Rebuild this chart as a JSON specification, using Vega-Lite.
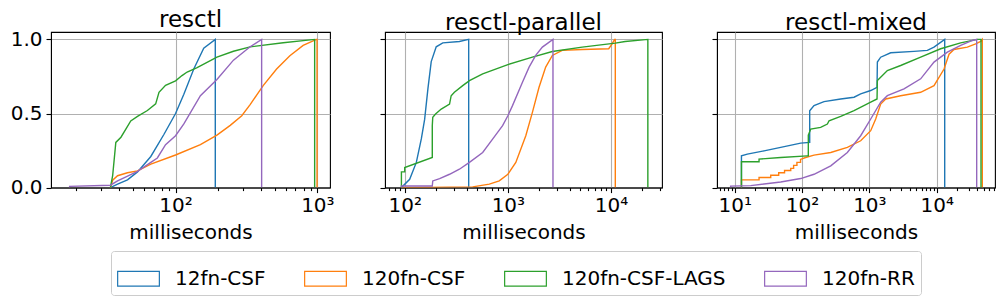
{
  "$schema": "https://vega.github.io/schema/vega-lite/v6.json",
  "padding": {"left": 9, "top": 8, "right": 5, "bottom": 5},
  "config": {
    "font": "DejaVu Sans",
    "view": {"stroke": "black", "strokeWidth": 1.1},
    "axis": {
      "labelFont": "DejaVu Sans", "labelFontSize": 20, "labelColor": "black",
      "titleFont": "DejaVu Sans", "titleFontSize": 20, "titleFontWeight": "normal", "titleColor": "black",
      "tickColor": "black", "domainColor": "black", "gridColor": "#b0b0b0", "gridWidth": 1.1, "tickWidth": 1.1
    },
    "title": {"font": "DejaVu Sans", "fontSize": 23, "fontWeight": "normal", "color": "black", "offset": -3},
    "legend": {"labelFont": "DejaVu Sans"}
  },
  "datasets": {
    "cdf": [
      {"p":"resctl","s":"12fn-CSF","i":0,"x":34.7,"y":0},
      {"p":"resctl","s":"12fn-CSF","i":1,"x":39,"y":0.023},
      {"p":"resctl","s":"12fn-CSF","i":2,"x":45.8,"y":0.052},
      {"p":"resctl","s":"12fn-CSF","i":3,"x":53.9,"y":0.106},
      {"p":"resctl","s":"12fn-CSF","i":4,"x":66.9,"y":0.21},
      {"p":"resctl","s":"12fn-CSF","i":5,"x":82.9,"y":0.36},
      {"p":"resctl","s":"12fn-CSF","i":6,"x":100,"y":0.5},
      {"p":"resctl","s":"12fn-CSF","i":7,"x":114.4,"y":0.63},
      {"p":"resctl","s":"12fn-CSF","i":8,"x":134.4,"y":0.8},
      {"p":"resctl","s":"12fn-CSF","i":9,"x":158,"y":0.94},
      {"p":"resctl","s":"12fn-CSF","i":10,"x":190.6,"y":1.0},
      {"p":"resctl","s":"12fn-CSF","i":11,"x":190.6,"y":0},

      {"p":"resctl","s":"120fn-CSF","i":0,"x":34.7,"y":0},
      {"p":"resctl","s":"120fn-CSF","i":1,"x":36,"y":0.05},
      {"p":"resctl","s":"120fn-CSF","i":2,"x":39,"y":0.08},
      {"p":"resctl","s":"120fn-CSF","i":3,"x":45.8,"y":0.1},
      {"p":"resctl","s":"120fn-CSF","i":4,"x":53.9,"y":0.113},
      {"p":"resctl","s":"120fn-CSF","i":5,"x":66.9,"y":0.158},
      {"p":"resctl","s":"120fn-CSF","i":6,"x":100,"y":0.22},
      {"p":"resctl","s":"120fn-CSF","i":7,"x":149.7,"y":0.29},
      {"p":"resctl","s":"120fn-CSF","i":8,"x":195.8,"y":0.354},
      {"p":"resctl","s":"120fn-CSF","i":9,"x":243,"y":0.42},
      {"p":"resctl","s":"120fn-CSF","i":10,"x":293,"y":0.485},
      {"p":"resctl","s":"120fn-CSF","i":11,"x":335.6,"y":0.56},
      {"p":"resctl","s":"120fn-CSF","i":12,"x":416,"y":0.69},
      {"p":"resctl","s":"120fn-CSF","i":13,"x":516,"y":0.8},
      {"p":"resctl","s":"120fn-CSF","i":14,"x":640,"y":0.89},
      {"p":"resctl","s":"120fn-CSF","i":15,"x":794,"y":0.96},
      {"p":"resctl","s":"120fn-CSF","i":16,"x":985,"y":1.0},
      {"p":"resctl","s":"120fn-CSF","i":17,"x":995,"y":1.0},
      {"p":"resctl","s":"120fn-CSF","i":18,"x":995,"y":0},

      {"p":"resctl","s":"120fn-CSF-LAGS","i":0,"x":34.7,"y":0},
      {"p":"resctl","s":"120fn-CSF-LAGS","i":1,"x":36,"y":0.08},
      {"p":"resctl","s":"120fn-CSF-LAGS","i":2,"x":37.9,"y":0.305},
      {"p":"resctl","s":"120fn-CSF-LAGS","i":3,"x":41.2,"y":0.34},
      {"p":"resctl","s":"120fn-CSF-LAGS","i":4,"x":44.6,"y":0.395},
      {"p":"resctl","s":"120fn-CSF-LAGS","i":5,"x":48.3,"y":0.45},
      {"p":"resctl","s":"120fn-CSF-LAGS","i":6,"x":53.9,"y":0.48},
      {"p":"resctl","s":"120fn-CSF-LAGS","i":7,"x":63.3,"y":0.52},
      {"p":"resctl","s":"120fn-CSF-LAGS","i":8,"x":72.4,"y":0.565},
      {"p":"resctl","s":"120fn-CSF-LAGS","i":9,"x":76.4,"y":0.643},
      {"p":"resctl","s":"120fn-CSF-LAGS","i":10,"x":85,"y":0.69},
      {"p":"resctl","s":"120fn-CSF-LAGS","i":11,"x":100,"y":0.72},
      {"p":"resctl","s":"120fn-CSF-LAGS","i":12,"x":111,"y":0.756},
      {"p":"resctl","s":"120fn-CSF-LAGS","i":13,"x":120.7,"y":0.78},
      {"p":"resctl","s":"120fn-CSF-LAGS","i":14,"x":141.9,"y":0.81},
      {"p":"resctl","s":"120fn-CSF-LAGS","i":15,"x":195.8,"y":0.88},
      {"p":"resctl","s":"120fn-CSF-LAGS","i":16,"x":256,"y":0.92},
      {"p":"resctl","s":"120fn-CSF-LAGS","i":17,"x":335.6,"y":0.95},
      {"p":"resctl","s":"120fn-CSF-LAGS","i":18,"x":574,"y":0.977},
      {"p":"resctl","s":"120fn-CSF-LAGS","i":19,"x":957,"y":1.0},
      {"p":"resctl","s":"120fn-CSF-LAGS","i":20,"x":957,"y":0},

      {"p":"resctl","s":"120fn-RR","i":0,"x":17.9,"y":0},
      {"p":"resctl","s":"120fn-RR","i":1,"x":17.9,"y":0.008},
      {"p":"resctl","s":"120fn-RR","i":2,"x":34.7,"y":0.016},
      {"p":"resctl","s":"120fn-RR","i":3,"x":39,"y":0.045},
      {"p":"resctl","s":"120fn-RR","i":4,"x":53.9,"y":0.11},
      {"p":"resctl","s":"120fn-RR","i":5,"x":66.9,"y":0.17},
      {"p":"resctl","s":"120fn-RR","i":6,"x":74.4,"y":0.2},
      {"p":"resctl","s":"120fn-RR","i":7,"x":85,"y":0.29},
      {"p":"resctl","s":"120fn-RR","i":8,"x":100,"y":0.35},
      {"p":"resctl","s":"120fn-RR","i":9,"x":114.4,"y":0.43},
      {"p":"resctl","s":"120fn-RR","i":10,"x":149.7,"y":0.62},
      {"p":"resctl","s":"120fn-RR","i":11,"x":195.8,"y":0.73},
      {"p":"resctl","s":"120fn-RR","i":12,"x":256,"y":0.86},
      {"p":"resctl","s":"120fn-RR","i":13,"x":335.6,"y":0.95},
      {"p":"resctl","s":"120fn-RR","i":14,"x":404.6,"y":1.0},
      {"p":"resctl","s":"120fn-RR","i":15,"x":404.6,"y":0},

      {"p":"resctl-parallel","s":"12fn-CSF","i":0,"x":92.9,"y":0},
      {"p":"resctl-parallel","s":"12fn-CSF","i":1,"x":111.7,"y":0.056},
      {"p":"resctl-parallel","s":"12fn-CSF","i":2,"x":129.6,"y":0.17},
      {"p":"resctl-parallel","s":"12fn-CSF","i":3,"x":145,"y":0.33},
      {"p":"resctl-parallel","s":"12fn-CSF","i":4,"x":156,"y":0.46},
      {"p":"resctl-parallel","s":"12fn-CSF","i":5,"x":168,"y":0.67},
      {"p":"resctl-parallel","s":"12fn-CSF","i":6,"x":180.7,"y":0.85},
      {"p":"resctl-parallel","s":"12fn-CSF","i":7,"x":202,"y":0.95},
      {"p":"resctl-parallel","s":"12fn-CSF","i":8,"x":234,"y":0.977},
      {"p":"resctl-parallel","s":"12fn-CSF","i":9,"x":339,"y":0.986},
      {"p":"resctl-parallel","s":"12fn-CSF","i":10,"x":417,"y":1.0},
      {"p":"resctl-parallel","s":"12fn-CSF","i":11,"x":417,"y":0},

      {"p":"resctl-parallel","s":"120fn-CSF","i":0,"x":92.9,"y":0},
      {"p":"resctl-parallel","s":"120fn-CSF","i":1,"x":456,"y":0.005},
      {"p":"resctl-parallel","s":"120fn-CSF","i":2,"x":661,"y":0.023},
      {"p":"resctl-parallel","s":"120fn-CSF","i":3,"x":825,"y":0.045},
      {"p":"resctl-parallel","s":"120fn-CSF","i":4,"x":1000,"y":0.09},
      {"p":"resctl-parallel","s":"120fn-CSF","i":5,"x":1194,"y":0.17},
      {"p":"resctl-parallel","s":"120fn-CSF","i":6,"x":1492,"y":0.35},
      {"p":"resctl-parallel","s":"120fn-CSF","i":7,"x":1729,"y":0.508},
      {"p":"resctl-parallel","s":"120fn-CSF","i":8,"x":2005,"y":0.677},
      {"p":"resctl-parallel","s":"120fn-CSF","i":9,"x":2326,"y":0.813},
      {"p":"resctl-parallel","s":"120fn-CSF","i":10,"x":2698,"y":0.892},
      {"p":"resctl-parallel","s":"120fn-CSF","i":11,"x":3365,"y":0.926},
      {"p":"resctl-parallel","s":"120fn-CSF","i":12,"x":5250,"y":0.932},
      {"p":"resctl-parallel","s":"120fn-CSF","i":13,"x":9500,"y":0.937},
      {"p":"resctl-parallel","s":"120fn-CSF","i":14,"x":10240,"y":0.97},
      {"p":"resctl-parallel","s":"120fn-CSF","i":15,"x":10830,"y":1.0},
      {"p":"resctl-parallel","s":"120fn-CSF","i":16,"x":11000,"y":1.0},
      {"p":"resctl-parallel","s":"120fn-CSF","i":17,"x":11000,"y":0},

      {"p":"resctl-parallel","s":"120fn-CSF-LAGS","i":0,"x":92.9,"y":0},
      {"p":"resctl-parallel","s":"120fn-CSF-LAGS","i":1,"x":92.9,"y":0.106},
      {"p":"resctl-parallel","s":"120fn-CSF-LAGS","i":2,"x":100,"y":0.106},
      {"p":"resctl-parallel","s":"120fn-CSF-LAGS","i":3,"x":100,"y":0.135},
      {"p":"resctl-parallel","s":"120fn-CSF-LAGS","i":4,"x":185,"y":0.203},
      {"p":"resctl-parallel","s":"120fn-CSF-LAGS","i":5,"x":185,"y":0.418},
      {"p":"resctl-parallel","s":"120fn-CSF-LAGS","i":6,"x":187,"y":0.474},
      {"p":"resctl-parallel","s":"120fn-CSF-LAGS","i":7,"x":199,"y":0.497},
      {"p":"resctl-parallel","s":"120fn-CSF-LAGS","i":8,"x":226,"y":0.53},
      {"p":"resctl-parallel","s":"120fn-CSF-LAGS","i":9,"x":272,"y":0.564},
      {"p":"resctl-parallel","s":"120fn-CSF-LAGS","i":10,"x":282,"y":0.62},
      {"p":"resctl-parallel","s":"120fn-CSF-LAGS","i":11,"x":303,"y":0.643},
      {"p":"resctl-parallel","s":"120fn-CSF-LAGS","i":12,"x":365,"y":0.688},
      {"p":"resctl-parallel","s":"120fn-CSF-LAGS","i":13,"x":424,"y":0.722},
      {"p":"resctl-parallel","s":"120fn-CSF-LAGS","i":14,"x":570,"y":0.767},
      {"p":"resctl-parallel","s":"120fn-CSF-LAGS","i":15,"x":1000,"y":0.83},
      {"p":"resctl-parallel","s":"120fn-CSF-LAGS","i":16,"x":1729,"y":0.88},
      {"p":"resctl-parallel","s":"120fn-CSF-LAGS","i":17,"x":2698,"y":0.918},
      {"p":"resctl-parallel","s":"120fn-CSF-LAGS","i":18,"x":5250,"y":0.948},
      {"p":"resctl-parallel","s":"120fn-CSF-LAGS","i":19,"x":11000,"y":0.975},
      {"p":"resctl-parallel","s":"120fn-CSF-LAGS","i":20,"x":13700,"y":0.986},
      {"p":"resctl-parallel","s":"120fn-CSF-LAGS","i":21,"x":22750,"y":1.0},
      {"p":"resctl-parallel","s":"120fn-CSF-LAGS","i":22,"x":22750,"y":0},

      {"p":"resctl-parallel","s":"120fn-RR","i":0,"x":92.9,"y":0},
      {"p":"resctl-parallel","s":"120fn-RR","i":1,"x":92.9,"y":0.011},
      {"p":"resctl-parallel","s":"120fn-RR","i":2,"x":185,"y":0.011},
      {"p":"resctl-parallel","s":"120fn-RR","i":3,"x":187,"y":0.045},
      {"p":"resctl-parallel","s":"120fn-RR","i":4,"x":218,"y":0.06},
      {"p":"resctl-parallel","s":"120fn-RR","i":5,"x":272,"y":0.09},
      {"p":"resctl-parallel","s":"120fn-RR","i":6,"x":339,"y":0.124},
      {"p":"resctl-parallel","s":"120fn-RR","i":7,"x":424,"y":0.17},
      {"p":"resctl-parallel","s":"120fn-RR","i":8,"x":570,"y":0.237},
      {"p":"resctl-parallel","s":"120fn-RR","i":9,"x":711,"y":0.327},
      {"p":"resctl-parallel","s":"120fn-RR","i":10,"x":889,"y":0.418},
      {"p":"resctl-parallel","s":"120fn-RR","i":11,"x":1000,"y":0.485},
      {"p":"resctl-parallel","s":"120fn-RR","i":12,"x":1109,"y":0.553},
      {"p":"resctl-parallel","s":"120fn-RR","i":13,"x":1385,"y":0.711},
      {"p":"resctl-parallel","s":"120fn-RR","i":14,"x":1606,"y":0.813},
      {"p":"resctl-parallel","s":"120fn-RR","i":15,"x":1862,"y":0.892},
      {"p":"resctl-parallel","s":"120fn-RR","i":16,"x":2160,"y":0.948},
      {"p":"resctl-parallel","s":"120fn-RR","i":17,"x":2737,"y":1.0},
      {"p":"resctl-parallel","s":"120fn-RR","i":18,"x":2737,"y":0},

      {"p":"resctl-mixed","s":"12fn-CSF","i":0,"x":12.6,"y":0},
      {"p":"resctl-mixed","s":"12fn-CSF","i":1,"x":12.6,"y":0.214},
      {"p":"resctl-mixed","s":"12fn-CSF","i":2,"x":15.4,"y":0.226},
      {"p":"resctl-mixed","s":"12fn-CSF","i":3,"x":27.3,"y":0.248},
      {"p":"resctl-mixed","s":"12fn-CSF","i":4,"x":48.2,"y":0.271},
      {"p":"resctl-mixed","s":"12fn-CSF","i":5,"x":95.5,"y":0.3},
      {"p":"resctl-mixed","s":"12fn-CSF","i":6,"x":130,"y":0.305},
      {"p":"resctl-mixed","s":"12fn-CSF","i":7,"x":130,"y":0.519},
      {"p":"resctl-mixed","s":"12fn-CSF","i":8,"x":150.7,"y":0.553},
      {"p":"resctl-mixed","s":"12fn-CSF","i":9,"x":212,"y":0.58},
      {"p":"resctl-mixed","s":"12fn-CSF","i":10,"x":375,"y":0.598},
      {"p":"resctl-mixed","s":"12fn-CSF","i":11,"x":592,"y":0.61},
      {"p":"resctl-mixed","s":"12fn-CSF","i":12,"x":743,"y":0.632},
      {"p":"resctl-mixed","s":"12fn-CSF","i":13,"x":1047,"y":0.655},
      {"p":"resctl-mixed","s":"12fn-CSF","i":14,"x":1300,"y":0.677},
      {"p":"resctl-mixed","s":"12fn-CSF","i":15,"x":1315,"y":0.847},
      {"p":"resctl-mixed","s":"12fn-CSF","i":16,"x":1472,"y":0.88},
      {"p":"resctl-mixed","s":"12fn-CSF","i":17,"x":2075,"y":0.91},
      {"p":"resctl-mixed","s":"12fn-CSF","i":18,"x":4600,"y":0.919},
      {"p":"resctl-mixed","s":"12fn-CSF","i":19,"x":7260,"y":0.926},
      {"p":"resctl-mixed","s":"12fn-CSF","i":20,"x":9120,"y":0.948},
      {"p":"resctl-mixed","s":"12fn-CSF","i":21,"x":13150,"y":1.0},
      {"p":"resctl-mixed","s":"12fn-CSF","i":22,"x":13150,"y":0},

      {"p":"resctl-mixed","s":"120fn-CSF","i":0,"x":12.6,"y":0},
      {"p":"resctl-mixed","s":"120fn-CSF","i":1,"x":12.6,"y":0.052},
      {"p":"resctl-mixed","s":"120fn-CSF","i":2,"x":23,"y":0.052},
      {"p":"resctl-mixed","s":"120fn-CSF","i":3,"x":23,"y":0.068},
      {"p":"resctl-mixed","s":"120fn-CSF","i":4,"x":34.3,"y":0.068},
      {"p":"resctl-mixed","s":"120fn-CSF","i":5,"x":34.3,"y":0.083},
      {"p":"resctl-mixed","s":"120fn-CSF","i":6,"x":45,"y":0.083},
      {"p":"resctl-mixed","s":"120fn-CSF","i":7,"x":45,"y":0.1},
      {"p":"resctl-mixed","s":"120fn-CSF","i":8,"x":55,"y":0.1},
      {"p":"resctl-mixed","s":"120fn-CSF","i":9,"x":55,"y":0.115},
      {"p":"resctl-mixed","s":"120fn-CSF","i":10,"x":68,"y":0.115},
      {"p":"resctl-mixed","s":"120fn-CSF","i":11,"x":68,"y":0.13},
      {"p":"resctl-mixed","s":"120fn-CSF","i":12,"x":75,"y":0.13},
      {"p":"resctl-mixed","s":"120fn-CSF","i":13,"x":75,"y":0.15},
      {"p":"resctl-mixed","s":"120fn-CSF","i":14,"x":84,"y":0.15},
      {"p":"resctl-mixed","s":"120fn-CSF","i":15,"x":84,"y":0.17},
      {"p":"resctl-mixed","s":"120fn-CSF","i":16,"x":95,"y":0.17},
      {"p":"resctl-mixed","s":"120fn-CSF","i":17,"x":95,"y":0.19},
      {"p":"resctl-mixed","s":"120fn-CSF","i":18,"x":113,"y":0.203},
      {"p":"resctl-mixed","s":"120fn-CSF","i":19,"x":150.7,"y":0.219},
      {"p":"resctl-mixed","s":"120fn-CSF","i":20,"x":267,"y":0.237},
      {"p":"resctl-mixed","s":"120fn-CSF","i":21,"x":471,"y":0.271},
      {"p":"resctl-mixed","s":"120fn-CSF","i":22,"x":743,"y":0.316},
      {"p":"resctl-mixed","s":"120fn-CSF","i":23,"x":1047,"y":0.384},
      {"p":"resctl-mixed","s":"120fn-CSF","i":24,"x":1242,"y":0.463},
      {"p":"resctl-mixed","s":"120fn-CSF","i":25,"x":1472,"y":0.564},
      {"p":"resctl-mixed","s":"120fn-CSF","i":26,"x":1750,"y":0.598},
      {"p":"resctl-mixed","s":"120fn-CSF","i":27,"x":2916,"y":0.62},
      {"p":"resctl-mixed","s":"120fn-CSF","i":28,"x":5780,"y":0.643},
      {"p":"resctl-mixed","s":"120fn-CSF","i":29,"x":9120,"y":0.688},
      {"p":"resctl-mixed","s":"120fn-CSF","i":30,"x":12850,"y":0.8},
      {"p":"resctl-mixed","s":"120fn-CSF","i":31,"x":15250,"y":0.9},
      {"p":"resctl-mixed","s":"120fn-CSF","i":32,"x":18060,"y":0.932},
      {"p":"resctl-mixed","s":"120fn-CSF","i":33,"x":28500,"y":0.948},
      {"p":"resctl-mixed","s":"120fn-CSF","i":34,"x":37900,"y":0.97},
      {"p":"resctl-mixed","s":"120fn-CSF","i":35,"x":45000,"y":0.986},
      {"p":"resctl-mixed","s":"120fn-CSF","i":36,"x":47600,"y":1.0},
      {"p":"resctl-mixed","s":"120fn-CSF","i":37,"x":47600,"y":0},

      {"p":"resctl-mixed","s":"120fn-CSF-LAGS","i":0,"x":12.6,"y":0},
      {"p":"resctl-mixed","s":"120fn-CSF-LAGS","i":1,"x":12.6,"y":0.174},
      {"p":"resctl-mixed","s":"120fn-CSF-LAGS","i":2,"x":23,"y":0.174},
      {"p":"resctl-mixed","s":"120fn-CSF-LAGS","i":3,"x":23,"y":0.192},
      {"p":"resctl-mixed","s":"120fn-CSF-LAGS","i":4,"x":48.2,"y":0.203},
      {"p":"resctl-mixed","s":"120fn-CSF-LAGS","i":5,"x":120,"y":0.214},
      {"p":"resctl-mixed","s":"120fn-CSF-LAGS","i":6,"x":124,"y":0.214},
      {"p":"resctl-mixed","s":"120fn-CSF-LAGS","i":7,"x":124,"y":0.354},
      {"p":"resctl-mixed","s":"120fn-CSF-LAGS","i":8,"x":134.6,"y":0.395},
      {"p":"resctl-mixed","s":"120fn-CSF-LAGS","i":9,"x":189,"y":0.406},
      {"p":"resctl-mixed","s":"120fn-CSF-LAGS","i":10,"x":238,"y":0.429},
      {"p":"resctl-mixed","s":"120fn-CSF-LAGS","i":11,"x":252,"y":0.451},
      {"p":"resctl-mixed","s":"120fn-CSF-LAGS","i":12,"x":375,"y":0.48},
      {"p":"resctl-mixed","s":"120fn-CSF-LAGS","i":13,"x":592,"y":0.519},
      {"p":"resctl-mixed","s":"120fn-CSF-LAGS","i":14,"x":1047,"y":0.576},
      {"p":"resctl-mixed","s":"120fn-CSF-LAGS","i":15,"x":1300,"y":0.598},
      {"p":"resctl-mixed","s":"120fn-CSF-LAGS","i":16,"x":1315,"y":0.722},
      {"p":"resctl-mixed","s":"120fn-CSF-LAGS","i":17,"x":1850,"y":0.79},
      {"p":"resctl-mixed","s":"120fn-CSF-LAGS","i":18,"x":2916,"y":0.824},
      {"p":"resctl-mixed","s":"120fn-CSF-LAGS","i":19,"x":5780,"y":0.88},
      {"p":"resctl-mixed","s":"120fn-CSF-LAGS","i":20,"x":11460,"y":0.937},
      {"p":"resctl-mixed","s":"120fn-CSF-LAGS","i":21,"x":22700,"y":0.977},
      {"p":"resctl-mixed","s":"120fn-CSF-LAGS","i":22,"x":40200,"y":1.0},
      {"p":"resctl-mixed","s":"120fn-CSF-LAGS","i":23,"x":45500,"y":1.0},
      {"p":"resctl-mixed","s":"120fn-CSF-LAGS","i":24,"x":45500,"y":0},

      {"p":"resctl-mixed","s":"120fn-RR","i":0,"x":8.7,"y":0},
      {"p":"resctl-mixed","s":"120fn-RR","i":1,"x":8.7,"y":0.01},
      {"p":"resctl-mixed","s":"120fn-RR","i":2,"x":17.3,"y":0.013},
      {"p":"resctl-mixed","s":"120fn-RR","i":3,"x":48.2,"y":0.038},
      {"p":"resctl-mixed","s":"120fn-RR","i":4,"x":95.5,"y":0.061},
      {"p":"resctl-mixed","s":"120fn-RR","i":5,"x":150.7,"y":0.09},
      {"p":"resctl-mixed","s":"120fn-RR","i":6,"x":267,"y":0.147},
      {"p":"resctl-mixed","s":"120fn-RR","i":7,"x":471,"y":0.237},
      {"p":"resctl-mixed","s":"120fn-RR","i":8,"x":743,"y":0.35},
      {"p":"resctl-mixed","s":"120fn-RR","i":9,"x":1047,"y":0.463},
      {"p":"resctl-mixed","s":"120fn-RR","i":10,"x":1472,"y":0.576},
      {"p":"resctl-mixed","s":"120fn-RR","i":11,"x":1850,"y":0.62},
      {"p":"resctl-mixed","s":"120fn-RR","i":12,"x":3270,"y":0.666},
      {"p":"resctl-mixed","s":"120fn-RR","i":13,"x":5780,"y":0.734},
      {"p":"resctl-mixed","s":"120fn-RR","i":14,"x":9120,"y":0.847},
      {"p":"resctl-mixed","s":"120fn-RR","i":15,"x":14400,"y":0.914},
      {"p":"resctl-mixed","s":"120fn-RR","i":16,"x":22700,"y":0.96},
      {"p":"resctl-mixed","s":"120fn-RR","i":17,"x":33900,"y":0.993},
      {"p":"resctl-mixed","s":"120fn-RR","i":18,"x":39250,"y":1.0},
      {"p":"resctl-mixed","s":"120fn-RR","i":19,"x":39250,"y":0}
    ]
  },
  "data": {"name": "cdf"},
  "bounds": "flush",
  "spacing": 55,
  "resolve": {"scale": {"x": "independent", "color": "shared"}, "legend": {"color": "shared"}},
  "hconcat": [
    {
      "title": "resctl",
      "width": 279, "height": 155.6,
      "transform": [{"filter": "datum.p === 'resctl'"}],
      "mark": {"type": "line", "strokeWidth": 1.4, "clip": true},
      "encoding": {
        "x": {"field": "x", "type": "quantitative",
          "scale": {"type": "log", "domain": [13.23, 1228], "nice": false},
          "axis": {"title": "milliseconds", "values": [20,30,40,50,60,70,80,90,100,200,300,400,500,600,700,800,900,1000],
            "labelExpr": "abs(log(datum.value)/LN10 - round(log(datum.value)/LN10)) < 0.000001 ? '10' + ['⁰','¹','²','³','⁴','⁵'][round(log(datum.value)/LN10)] : ''",
            "labelOverlap": false, "labelFlush": false, "labelPadding": 3, "titlePadding": 7,
            "tickSize": {"condition": {"test": "abs(log(datum.value)/LN10 - round(log(datum.value)/LN10)) < 0.000001", "value": 5}, "value": 3},
            "gridOpacity": {"condition": {"test": "abs(log(datum.value)/LN10 - round(log(datum.value)/LN10)) < 0.000001", "value": 1}, "value": 0}}},
        "y": {"field": "y", "type": "quantitative",
          "scale": {"domain": [0, 1.05], "nice": false},
          "axis": {"title": null, "values": [0, 0.5, 1], "format": ".1f", "tickSize": 5, "labelPadding": 4}},
        "color": {"field": "s", "type": "nominal",
          "scale": {"domain": ["12fn-CSF","120fn-CSF","120fn-CSF-LAGS","120fn-RR"], "range": ["#1f77b4","#ff7f0e","#2ca02c","#9467bd"]},
          "legend": {"orient": "none", "legendX": 60, "legendY": 219, "direction": "horizontal", "columns": 4, "title": null,
            "symbolType": "M-1,-0.35H1V0.35H-1Z", "symbolSize": 1740, "symbolStrokeWidth": 1.2,
            "labelFontSize": 20, "labelColor": "black", "labelOffset": 15, "columnPadding": 36, "padding": 6,
            "strokeColor": "#cccccc", "cornerRadius": 3, "fillColor": "white", "labelLimit": 300}},
        "order": {"field": "i", "type": "quantitative"}
      }
    },
    {
      "title": "resctl-parallel",
      "width": 277, "height": 155.6,
      "transform": [{"filter": "datum.p === 'resctl-parallel'"}],
      "mark": {"type": "line", "strokeWidth": 1.4, "clip": true},
      "encoding": {
        "x": {"field": "x", "type": "quantitative",
          "scale": {"type": "log", "domain": [64.4, 31200], "nice": false},
          "axis": {"title": "milliseconds", "values": [70,80,90,100,200,300,400,500,600,700,800,900,1000,2000,3000,4000,5000,6000,7000,8000,9000,10000,20000,30000],
            "labelExpr": "abs(log(datum.value)/LN10 - round(log(datum.value)/LN10)) < 0.000001 ? '10' + ['⁰','¹','²','³','⁴','⁵'][round(log(datum.value)/LN10)] : ''",
            "labelOverlap": false, "labelFlush": false, "labelPadding": 3, "titlePadding": 7,
            "tickSize": {"condition": {"test": "abs(log(datum.value)/LN10 - round(log(datum.value)/LN10)) < 0.000001", "value": 5}, "value": 3},
            "gridOpacity": {"condition": {"test": "abs(log(datum.value)/LN10 - round(log(datum.value)/LN10)) < 0.000001", "value": 1}, "value": 0}}},
        "y": {"field": "y", "type": "quantitative",
          "scale": {"domain": [0, 1.05], "nice": false},
          "axis": {"title": null, "values": [0, 0.5, 1], "labels": false, "tickSize": 5}},
        "color": {"field": "s", "type": "nominal",
          "scale": {"domain": ["12fn-CSF","120fn-CSF","120fn-CSF-LAGS","120fn-RR"], "range": ["#1f77b4","#ff7f0e","#2ca02c","#9467bd"]}},
        "order": {"field": "i", "type": "quantitative"}
      }
    },
    {
      "title": "resctl-mixed",
      "width": 278, "height": 155.6,
      "transform": [{"filter": "datum.p === 'resctl-mixed'"}],
      "mark": {"type": "line", "strokeWidth": 1.4, "clip": true},
      "encoding": {
        "x": {"field": "x", "type": "quantitative",
          "scale": {"type": "log", "domain": [5.46, 73400], "nice": false},
          "axis": {"title": "milliseconds", "values": [6,7,8,9,10,20,30,40,50,60,70,80,90,100,200,300,400,500,600,700,800,900,1000,2000,3000,4000,5000,6000,7000,8000,9000,10000,20000,30000,40000,50000,60000,70000],
            "labelExpr": "abs(log(datum.value)/LN10 - round(log(datum.value)/LN10)) < 0.000001 ? '10' + ['⁰','¹','²','³','⁴','⁵'][round(log(datum.value)/LN10)] : ''",
            "labelOverlap": false, "labelFlush": false, "labelPadding": 3, "titlePadding": 7,
            "tickSize": {"condition": {"test": "abs(log(datum.value)/LN10 - round(log(datum.value)/LN10)) < 0.000001", "value": 5}, "value": 3},
            "gridOpacity": {"condition": {"test": "abs(log(datum.value)/LN10 - round(log(datum.value)/LN10)) < 0.000001", "value": 1}, "value": 0}}},
        "y": {"field": "y", "type": "quantitative",
          "scale": {"domain": [0, 1.05], "nice": false},
          "axis": {"title": null, "values": [0, 0.5, 1], "labels": false, "tickSize": 5}},
        "color": {"field": "s", "type": "nominal",
          "scale": {"domain": ["12fn-CSF","120fn-CSF","120fn-CSF-LAGS","120fn-RR"], "range": ["#1f77b4","#ff7f0e","#2ca02c","#9467bd"]}},
        "order": {"field": "i", "type": "quantitative"}
      }
    }
  ]
}
